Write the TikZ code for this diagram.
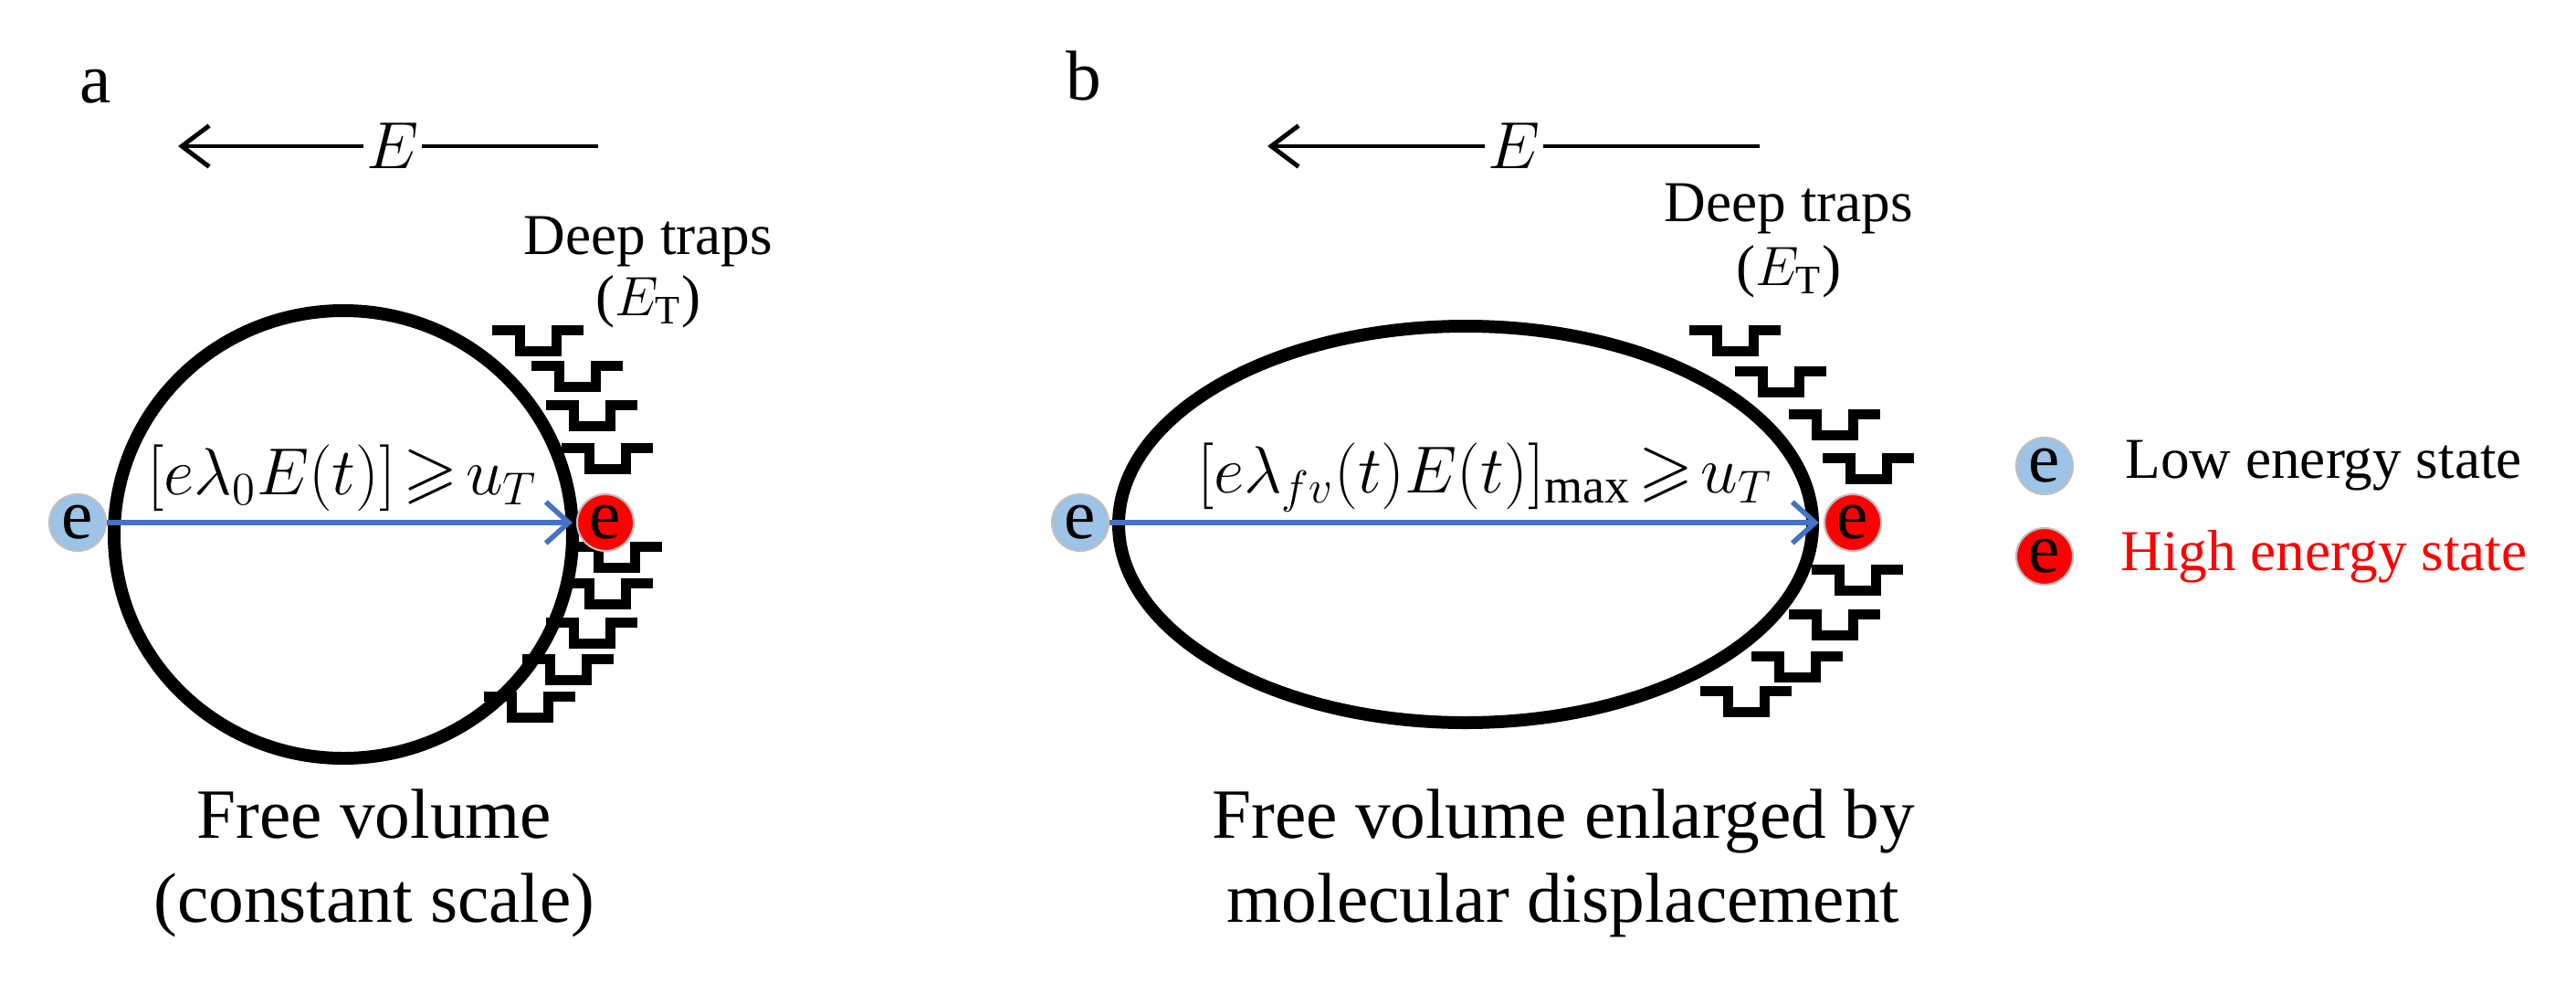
\documentclass[tikz,border=0pt]{standalone}
\usepackage{amssymb}
\usepackage{fontspec}
\setmainfont{Liberation Serif}
\usetikzlibrary{arrows.meta}
\definecolor{lowblue}{HTML}{9DC3E6}
\definecolor{arrblue}{HTML}{4472C4}
\tikzset{
  wall/.style={line width=0.14cm},
  trapline/.style={line width=0.11cm},
  trap/.pic={\draw[trapline] (0,0)--(0.30,0)--(0.30,-0.23)--(0.70,-0.23)--(0.70,0)--(1.0,0);},
  elec/.style={circle,draw=black!25,line width=0.6pt,minimum size=0.62cm,inner sep=0pt,font=\fontsize{22}{22}\selectfont},
  lowe/.style={elec,fill=lowblue},
  highe/.style={elec,fill=red},
  big/.style={font=\fontsize{22}{26}\selectfont,align=center},
  mid/.style={font=\fontsize{18}{21}\selectfont,align=center},
  field/.style={line width=1.4pt,-{Straight Barb[length=0.3cm,width=0.45cm,line width=1.4pt]}},
  jump/.style={draw=arrblue,line width=1.6pt,-{Straight Barb[length=0.25cm,width=0.45cm,line width=1.6pt]}},
}
\begin{document}
\begin{tikzpicture}
\useasboundingbox (0,0) rectangle (28.21,10.87);
% panel a
\node[big] (la) at (1.05,9.92) {a};
\coordinate (fa1) at (6.55,9.27);
\coordinate (fa2) at (1.95,9.27);
\draw[field] (fa1) -- (fa2);
\node[big,fill=white,inner sep=1pt] (Ea) at (4.30,9.27) {$E$};
\draw[wall] (3.76,5.02) ellipse [x radius=2.51, y radius=2.45];
\foreach \x/\y in {5.39/7.26,5.82/6.87,5.98/6.44,6.15/5.97,6.25/4.89,6.15/4.49,5.98/4.06,5.72/3.66,5.30/3.25}
  \pic at (\x,\y) {trap};
\node[lowe] (ba) at (0.85,5.15) {e};
\node[highe] (ra) at (6.63,5.15) {e};
\coordinate (ta) at (6.27,5.15);
\draw[jump] (ba.east) -- (ta);
\node[big] (fma) at (3.75,5.64) {$[e\lambda_0E(t)]\!\geqslant\! u_T$};
\node[mid] (dta) at (7.10,8.22) {Deep traps};
\node[mid] (eta) at (7.10,7.57) {($E_{\mathrm{T}}$)};
\node[big] (ca) at (4.10,1.42) {Free volume\\(constant scale)};
% panel b
\node[big] (lb) at (11.87,10.04) {b};
\coordinate (fb1) at (19.27,9.27);
\coordinate (fb2) at (13.88,9.27);
\draw[field] (fb1) -- (fb2);
\node[big,fill=white,inner sep=1pt] (Eb) at (16.58,9.27) {$E$};
\draw[wall] (16.05,5.13) ellipse [x radius=3.80, y radius=2.17];
\foreach \x/\y in {18.50/7.26,19.00/6.81,19.59/6.34,19.96/5.86,19.84/4.64,19.59/4.15,19.18/3.69,18.62/3.31}
  \pic at (\x,\y) {trap};
\node[lowe] (bb) at (11.83,5.15) {e};
\node[highe] (rb) at (20.29,5.15) {e};
\coordinate (tb) at (19.92,5.15);
\draw[jump] (bb.east) -- (tb);
\node[big] (fmb) at (16.26,5.64) {$[e\lambda_{fv}(t)E(t)]_{\max}\!\geqslant\! u_T$};
\node[mid] (dtb) at (19.59,8.58) {Deep traps};
\node[mid] (etb) at (19.59,7.90) {($E_{\mathrm{T}}$)};
\node[big] (cb) at (17.12,1.42) {Free volume enlarged by\\molecular displacement};
% legend
\node[lowe] (lg1) at (22.39,5.77) {e};
\node[highe] (lg2) at (22.39,4.78) {e};
\node[mid,anchor=west] (lt1) at (23.15,5.77) {Low energy state};
\node[mid,anchor=west,text=red] (lt2) at (23.10,4.78) {High energy state};
\end{tikzpicture}
\end{document}
